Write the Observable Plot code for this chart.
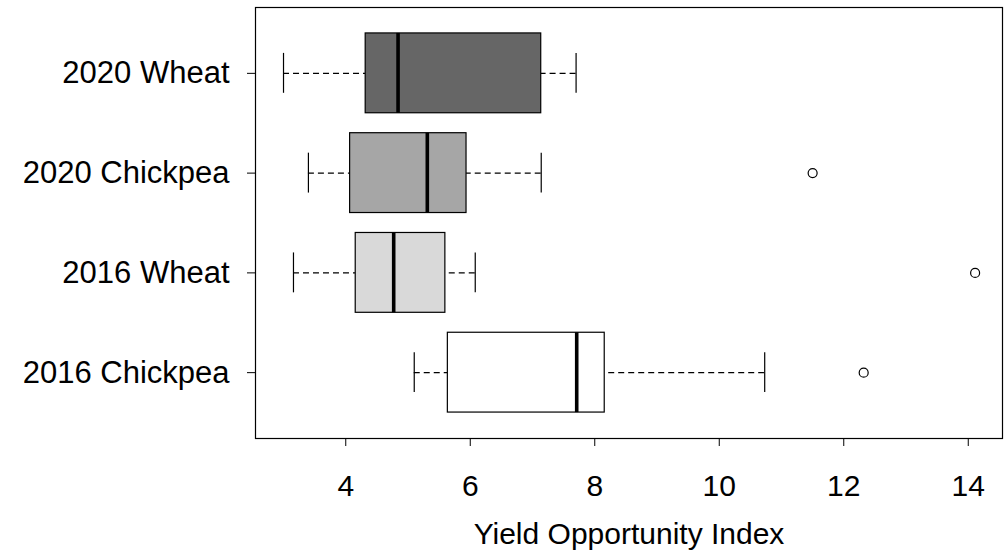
<!DOCTYPE html>
<html>
<head>
<meta charset="utf-8">
<script src="https://cdn.jsdelivr.net/npm/d3@7"></script>
<script src="https://cdn.jsdelivr.net/npm/@observablehq/plot@0.6"></script>
<style>
  html, body { margin: 0; padding: 0; background: #ffffff; }
</style>
</head>
<body>
<div id="chart"></div>
<script>
// Categories, bottom to top (R boxplot order)
const categories = ["2016 Chickpea", "2016 Wheat", "2020 Chickpea", "2020 Wheat"];
// Five-number summaries
const whiskerLow  = [5.10, 3.16, 3.40, 3.00];
const q1          = [5.64, 4.16, 4.07, 4.32];
const median      = [7.71, 4.77, 5.31, 4.84];
const q3          = [8.16, 5.60, 5.94, 7.14];
const whiskerHigh = [10.73, 6.08, 7.14, 7.70];
// Outliers
const outlierGroup = ["2016 Chickpea", "2016 Wheat", "2020 Chickpea"];
const outlierValue = [12.32, 14.11, 11.50];
// Box fills
const boxFills = ["#ffffff", "#d9d9d9", "#a6a6a6", "#666666"];
// X tick values
const xTicks = [4, 6, 8, 10, 12, 14];

const rows = categories.map((c, i) => ({
  category: c, pos: i + 1,
  whiskerLow: whiskerLow[i], q1: q1[i], median: median[i], q3: q3[i], whiskerHigh: whiskerHigh[i]
}));
const outliers = outlierGroup.map((g, i) => ({category: g, pos: categories.indexOf(g) + 1, value: outlierValue[i]}));

const HALF_BOX = 0.4, HALF_CAP = 0.2;

const chart = Plot.plot({
  width: 1004,
  height: 551,
  marginLeft: 255,
  marginRight: 2,
  marginTop: 7,
  marginBottom: 113,
  style: {fontFamily: "'Liberation Sans', Arial, sans-serif", fontSize: "30px", color: "#000", background: "#fff"},
  x: {domain: [2.55, 14.55]},
  y: {domain: [0.34, 4.66]},
  color: {domain: categories, range: boxFills},
  marks: [
    // whiskers (dashed), drawn from whisker end toward the box
    Plot.ruleY(rows, {y: "pos", x1: "whiskerLow", x2: "q1", stroke: "#000", strokeWidth: 1.2, strokeDasharray: "6,4"}),
    Plot.ruleY(rows, {y: "pos", x1: "whiskerHigh", x2: "q3", stroke: "#000", strokeWidth: 1.2, strokeDasharray: "6,4"}),
    // staples
    Plot.ruleX(rows, {x: "whiskerLow", y1: d => d.pos - HALF_CAP, y2: d => d.pos + HALF_CAP, stroke: "#000", strokeWidth: 1.2}),
    Plot.ruleX(rows, {x: "whiskerHigh", y1: d => d.pos - HALF_CAP, y2: d => d.pos + HALF_CAP, stroke: "#000", strokeWidth: 1.2}),
    // boxes
    Plot.rect(rows, {x1: "q1", x2: "q3", y1: d => d.pos - HALF_BOX, y2: d => d.pos + HALF_BOX, fill: "category", stroke: "#000", strokeWidth: 1.2}),
    // medians
    Plot.ruleX(rows, {x: "median", y1: d => d.pos - HALF_BOX, y2: d => d.pos + HALF_BOX, stroke: "#000", strokeWidth: 3.6}),
    // outliers
    Plot.dot(outliers, {x: "value", y: "pos", r: 4.5, stroke: "#000", fill: "none", strokeWidth: 1.2}),
    // axes
    Plot.axisX({ticks: xTicks, tickSize: 8, tickPadding: 28, label: "Yield Opportunity Index", labelAnchor: "center", labelOffset: 105, labelArrow: "none"}),
    Plot.axisY({ticks: [1, 2, 3, 4], tickFormat: i => categories[i - 1], tickSize: 8, tickPadding: 18, label: null, fontSize: 31}),
    Plot.frame({stroke: "#000", strokeWidth: 1.2})
  ]
});
document.getElementById("chart").appendChild(chart);
</script>
</body>
</html>
